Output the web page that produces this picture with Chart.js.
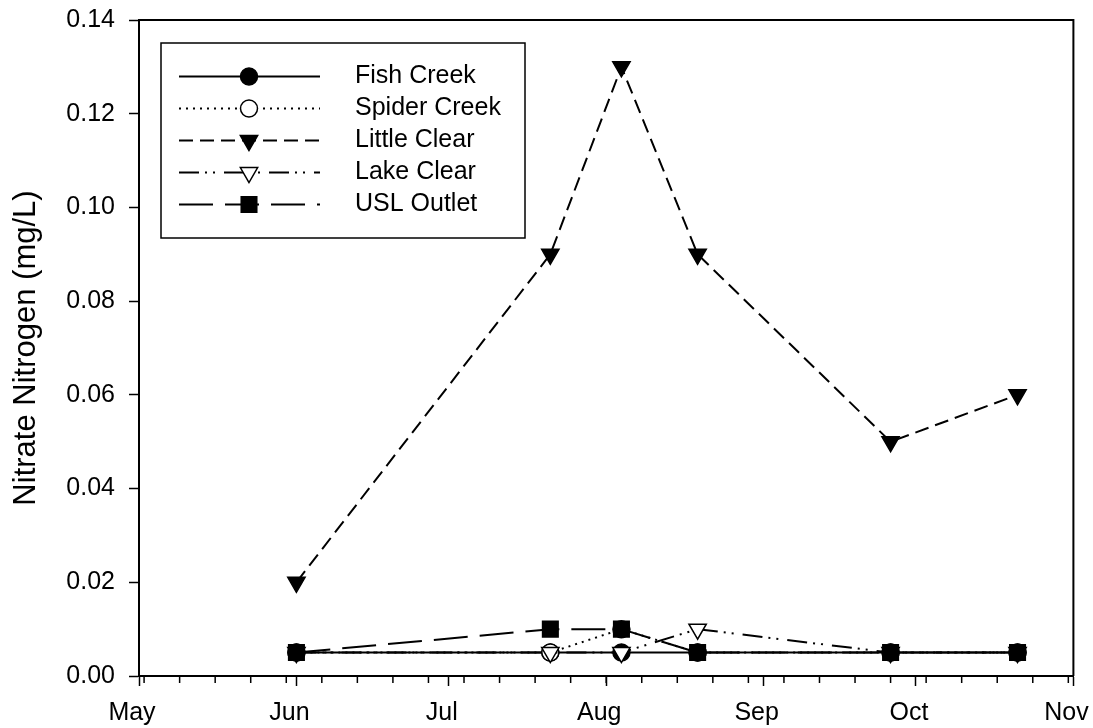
<!DOCTYPE html>
<html>
<head>
<meta charset="utf-8">
<title>Nitrate Nitrogen</title>
<script src="https://cdn.jsdelivr.net/npm/chart.js@4.4.1/dist/chart.umd.min.js"></script>
<style>
    html, body { margin: 0; padding: 0; background: #fff; }
    #wrap { width: 1093px; height: 728px; position: relative; }
</style>
</head>
<body>
<div id="wrap"><canvas id="myChart"></canvas></div>
<script>
'use strict';

// sampling dates (month-day) and nitrate values in mg/L
let seasonYear = 2000;
let sampleDates = ['06-01', '07-21', '08-04', '08-19', '09-26', '10-21'];
let fishCreek = [0.005, 0.005, 0.005, 0.005, 0.005, 0.005];
let spiderCreek = [0.005, 0.005, 0.01, 0.005, 0.005, 0.005];
let littleClear = [0.02, 0.09, 0.13, 0.09, 0.05, 0.06];
let lakeClear = [0.005, 0.005, 0.005, 0.01, 0.005, 0.005];
let uslOutlet = [0.005, 0.01, 0.01, 0.005, 0.005, 0.005];

let seriesNames = ['Fish Creek', 'Spider Creek', 'Little Clear', 'Lake Clear', 'USL Outlet'];
let monthLabels = ['May', 'Jun', 'Jul', 'Aug', 'Sep', 'Oct', 'Nov'];
let monthStarts = ['05-01', '06-01', '07-01', '08-01', '09-01', '10-01', '11-01'];
let yTicks = [0, 0.02, 0.04, 0.06, 0.08, 0.10, 0.12, 0.14];
let weekTickFirst = '05-02';

let fontFamily = "'Liberation Sans', Arial, Helvetica, sans-serif";

// days since May 1
function dayNum(md) {
    let parts = md.split('-');
    let t = Date.UTC(seasonYear, Number(parts[0]) - 1, Number(parts[1]));
    return (t - Date.UTC(seasonYear, 4, 1)) / 86400000;
}

function points(values) {
    return sampleDates.map(function(d, i) {
        return { x: dayNum(d), y: values[i] };
    });
}

let xMin = dayNum(monthStarts[0]);
let xMax = dayNum(monthStarts[monthStarts.length - 1]);

function makeSet(i, values, style, filled, radius, dash, rot) {
    return {
        label: seriesNames[i],
        data: points(values),
        borderColor: '#000',
        borderWidth: 2,
        borderDash: dash,
        pointStyle: style,
        pointRotation: rot,
        pointRadius: radius,
        pointHoverRadius: radius,
        pointBackgroundColor: filled ? '#000' : '#fff',
        pointBorderColor: '#000',
        pointBorderWidth: 1.5,
        tension: 0,
        fill: false,
        order: 5 - i
    };
}

let datasets = [
    makeSet(0, fishCreek, 'circle', true, 8.5, [], 0),
    makeSet(1, spiderCreek, 'circle', false, 8.5, [2, 5], 0),
    makeSet(2, littleClear, 'triangle', true, 10, [14, 7], 180),
    makeSet(3, lakeClear, 'triangle', false, 10, [20, 6, 2, 6, 2, 9], 180),
    makeSet(4, uslOutlet, 'rect', true, 11, [34, 12], 0)
];

function drawMarker(ctx, ds, x, y) {
    let r = ds.pointRadius;
    ctx.save();
    ctx.setLineDash([]);
    ctx.beginPath();
    if (ds.pointStyle === 'circle') {
        ctx.arc(x, y, r, 0, Math.PI * 2);
    } else if (ds.pointStyle === 'triangle') {
        let rad = ds.pointRotation * Math.PI / 180;
        for (let k = 0; k < 3; k++) {
            let a = rad + k * Math.PI * 2 / 3;
            let px = x + Math.sin(a) * r;
            let py = y - Math.cos(a) * r;
            if (k === 0) { ctx.moveTo(px, py); } else { ctx.lineTo(px, py); }
        }
        ctx.closePath();
    } else {
        let s = Math.SQRT1_2 * r;
        ctx.rect(x - s, y - s, 2 * s, 2 * s);
    }
    ctx.fillStyle = ds.pointBackgroundColor;
    ctx.fill();
    ctx.lineWidth = ds.pointBorderWidth;
    ctx.strokeStyle = '#000';
    ctx.stroke();
    ctx.restore();
}

// top/right frame, weekly minor ticks and the boxed legend
let extras = {
    id: 'extras',
    afterDraw: function(chart) {
        let ctx = chart.ctx;
        let area = chart.chartArea;
        let xs = chart.scales.x;

        ctx.save();
        ctx.strokeStyle = '#000';
        ctx.lineWidth = 2;
        ctx.beginPath();
        ctx.moveTo(area.left, area.top);
        ctx.lineTo(area.right, area.top);
        ctx.lineTo(area.right, area.bottom);
        ctx.stroke();

        ctx.lineWidth = 1.5;
        ctx.beginPath();
        for (let d = dayNum(weekTickFirst); d < xMax; d += 7) {
            let px = xs.getPixelForValue(d);
            ctx.moveTo(px, area.bottom);
            ctx.lineTo(px, area.bottom + 7);
        }
        ctx.stroke();

        // legend
        let bx = area.left + 22;
        let by = area.top + 23;
        ctx.fillStyle = '#fff';
        ctx.fillRect(bx, by, 364, 195);
        ctx.lineWidth = 1.5;
        ctx.strokeRect(bx, by, 364, 195);

        ctx.font = '25px ' + fontFamily;
        ctx.textBaseline = 'middle';
        ctx.textAlign = 'left';
        for (let i = 0; i < datasets.length; i++) {
            let ds = datasets[i];
            let ry = by + 33.5 + i * 32;
            ctx.save();
            ctx.lineWidth = ds.borderWidth;
            ctx.setLineDash(ds.borderDash);
            ctx.beginPath();
            ctx.moveTo(bx + 18, ry);
            ctx.lineTo(bx + 159, ry);
            ctx.stroke();
            ctx.restore();
            drawMarker(ctx, ds, bx + 88, ry);
            ctx.fillStyle = '#000';
            ctx.fillText(ds.label, bx + 194, ry);
        }
        ctx.restore();
    }
};

let ctx = document.getElementById('myChart').getContext('2d');
let myChart = new Chart(ctx, {
    type: 'line',
    data: { datasets: datasets },
    plugins: [extras],
    options: {
        responsive: true,
        maintainAspectRatio: false,
        animation: false,
        events: [],
        layout: { padding: { top: 20, right: 19.6, left: 0, bottom: 0 } },
        plugins: {
            legend: { display: false },
            tooltip: { enabled: false }
        },
        scales: {
            x: {
                type: 'linear',
                min: xMin,
                max: xMax,
                afterBuildTicks: function(scale) {
                    scale.ticks = monthStarts.map(function(m) { return { value: dayNum(m) }; });
                },
                afterFit: function(scale) {
                    scale.height = 52;
                    scale.paddingLeft = 0;
                    scale.paddingRight = 0;
                },
                ticks: {
                    autoSkip: false,
                    maxRotation: 0,
                    padding: 12,
                    labelOffset: -7,
                    color: '#000',
                    font: { family: fontFamily, size: 25 },
                    callback: function(value, index) {
                        return monthLabels[index];
                    }
                },
                grid: {
                    drawOnChartArea: false,
                    drawTicks: true,
                    tickLength: 10,
                    tickColor: '#000',
                    tickWidth: 1.5
                },
                border: { display: true, color: '#000', width: 2 }
            },
            y: {
                type: 'linear',
                min: yTicks[0],
                max: yTicks[yTicks.length - 1],
                afterBuildTicks: function(scale) {
                    scale.ticks = yTicks.map(function(v) { return { value: v }; });
                },
                afterFit: function(scale) {
                    scale.width = 139;
                    scale.paddingTop = 0;
                    scale.paddingBottom = 0;
                },
                ticks: {
                    padding: 14,
                    color: '#000',
                    font: { family: fontFamily, size: 25 },
                    callback: function(value) {
                        return Number(value).toFixed(2);
                    }
                },
                grid: {
                    drawOnChartArea: false,
                    drawTicks: true,
                    tickLength: 10,
                    tickColor: '#000',
                    tickWidth: 1.5
                },
                border: { display: true, color: '#000', width: 2 },
                title: {
                    display: true,
                    text: 'Nitrate Nitrogen (mg/L)',
                    color: '#000',
                    font: { family: fontFamily, size: 31 },
                    padding: { top: 8, bottom: 0 }
                }
            }
        }
    }
});
</script>
</body>
</html>
